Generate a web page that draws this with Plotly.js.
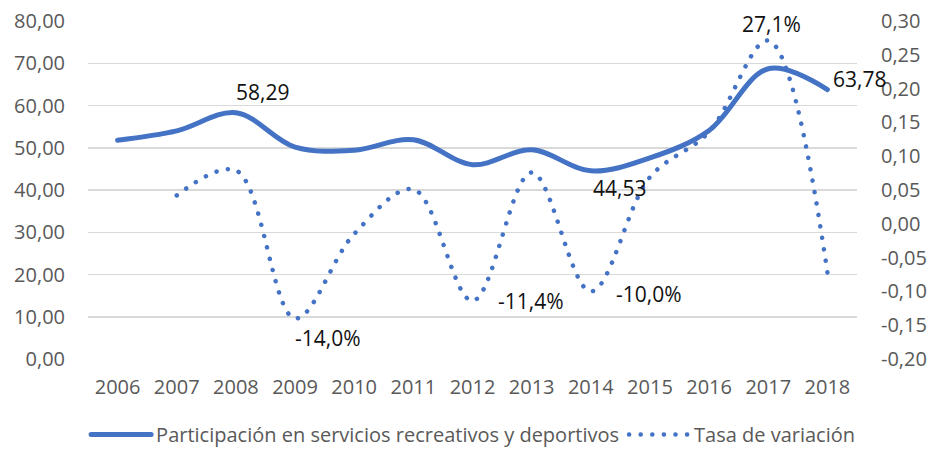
<!DOCTYPE html>
<html>
<head>
<meta charset="utf-8">
<script src="https://cdn.plot.ly/plotly-3.0.1.min.js"></script>
<style>
  html, body { margin: 0; padding: 0; background: #fff; }
  #chart { width: 935px; height: 454px; }
  .scatterlayer .js-line, .legend .js-line { stroke-linecap: round; }
</style>
</head>
<body>
<div id="chart"></div>
<script>
// ---- data ----
const years = ["2006","2007","2008","2009","2010","2011","2012","2013","2014","2015","2016","2017","2018"];
const participacion = [51.8, 54.0, 58.29, 50.13, 49.4, 51.9, 46.0, 49.5, 44.53, 47.6, 54.1, 68.7, 63.78];
const tasa = [null, 0.042, 0.079, -0.140, -0.015, 0.051, -0.114, 0.076, -0.100, 0.069, 0.136, 0.271, -0.072];
const seriesNames = ["Participación en servicios recreativos y deportivos", "Tasa de variación"];
const leftTicks = [0, 10, 20, 30, 40, 50, 60, 70, 80];
const rightTicks = [-0.20, -0.15, -0.10, -0.05, 0.00, 0.05, 0.10, 0.15, 0.20, 0.25, 0.30];
// labelled points: [index, xshift, yshift]
const partLabels = [[2, 27, 21], [8, 29, -17], [12, 32, 11]];
const tasaLabels = [[3, 33, -20], [6, 58, 0], [8, 58, -3], [11, 3, 17]];

const fmt2 = v => v.toFixed(2).replace('.', ',');
const fmtPct = v => (v * 100).toFixed(1).replace('.', ',') + '%';

const blue = '#4472C4';
const tickFont = { family: 'Open Sans, sans-serif', size: 20, color: '#595959' };
const labelFont = { family: 'Open Sans, sans-serif', size: 21, color: '#111111' };

const traces = [
  { x: years, y: participacion, name: seriesNames[0], type: 'scatter', mode: 'lines',
    line: { color: blue, width: 5, shape: 'spline', smoothing: 1 }, yaxis: 'y' },
  { x: years, y: tasa, name: seriesNames[1], type: 'scatter', mode: 'lines',
    line: { color: blue, width: 4.5, shape: 'spline', smoothing: 1, dash: '0.1px,11.5px' }, yaxis: 'y2' }
];

const annotations = [];
partLabels.forEach(function (p) {
  const i = p[0];
  annotations.push({ x: i, y: participacion[i], xref: 'x', yref: 'y', text: fmt2(participacion[i]),
    showarrow: false, xshift: p[1], yshift: p[2], font: labelFont });
});
tasaLabels.forEach(function (p) {
  const i = p[0];
  annotations.push({ x: i, y: tasa[i], xref: 'x', yref: 'y2', text: fmtPct(tasa[i]),
    showarrow: false, xshift: p[1], yshift: p[2], font: labelFont });
});

const layout = {
  width: 935, height: 454,
  margin: { l: 88, r: 78, t: 21, b: 95 },
  paper_bgcolor: '#fff', plot_bgcolor: '#fff',
  showlegend: true,
  legend: { orientation: 'h', x: 0.506, xanchor: 'center', xref: 'container',
            y: 0, yref: 'container', yanchor: 'bottom', itemwidth: 60,
            bgcolor: 'rgba(0,0,0,0)',
            font: { family: 'Open Sans, sans-serif', size: 20, color: '#595959' } },
  xaxis: { type: 'category', categoryorder: 'array', categoryarray: years,
           showgrid: false, zeroline: false, showline: false, ticks: '',
           tickfont: tickFont, ticklabelstandoff: 14, range: [-0.5, 12.5], automargin: false },
  yaxis: { range: [0, 80], tickvals: leftTicks, ticktext: leftTicks.map(fmt2),
           showgrid: true, gridcolor: '#d9d9d9', gridwidth: 1.5, zeroline: false,
           showline: false, ticks: '', tickfont: tickFont, ticklabelstandoff: 22, automargin: false },
  yaxis2: { range: [-0.20, 0.30], overlaying: 'y', side: 'right',
            tickvals: rightTicks, ticktext: rightTicks.map(v => v.toFixed(2).replace('.', ',')),
            showgrid: false, zeroline: false, showline: false, ticks: '',
            tickfont: tickFont, ticklabelstandoff: 23, automargin: false },
  annotations: annotations
};

Plotly.newPlot('chart', traces, layout, { displayModeBar: false, staticPlot: true });
</script>
</body>
</html>
